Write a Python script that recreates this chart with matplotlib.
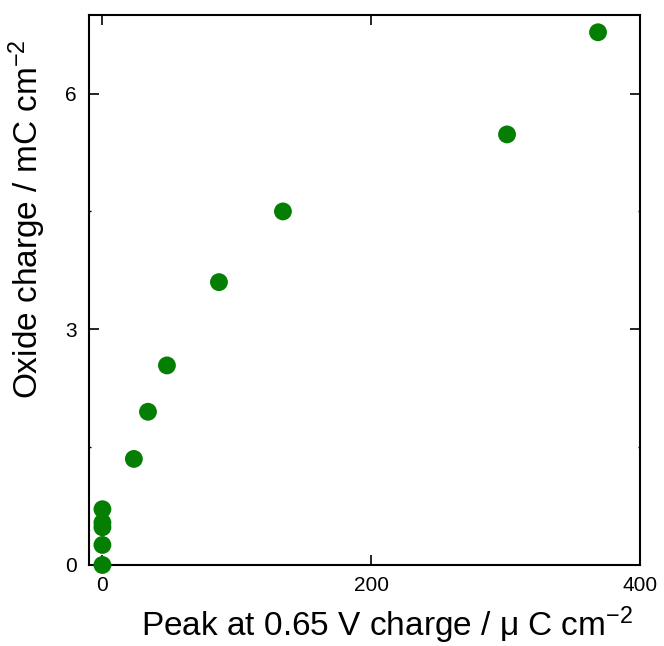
import matplotlib
matplotlib.use("Agg")
import matplotlib.pyplot as plt
from matplotlib.ticker import MultipleLocator

# peak charge at 0.65 V (uC cm-2) vs oxide charge (mC cm-2)
peak_charge = [0, 0, 0, 0, 0, 23.4, 33.9, 48.0, 86.7, 134.3, 301.0, 368.7]
oxide_charge = [0.0, 0.255, 0.48, 0.54, 0.71, 1.35, 1.95, 2.54, 3.60, 4.50, 5.48, 6.78]

x_ticks = [0, 200, 400]
y_ticks = [0, 3, 6]

plt.rcParams["font.family"] = ["Liberation Sans", "DejaVu Sans"]
plt.rcParams["mathtext.fontset"] = "custom"
plt.rcParams["mathtext.rm"] = "Liberation Sans"
plt.rcParams["mathtext.it"] = "Liberation Sans:italic"

fig = plt.figure(figsize=(6.64, 6.46), dpi=100)
ax = fig.add_axes([0.134, 0.1254, 0.830, 0.8514])

ax.scatter(peak_charge, oxide_charge, s=165, color="#047f04", edgecolors="none", zorder=3, clip_on=False)

ax.set_xlim(-10, 400)
ax.set_ylim(0, 7)
ax.set_xticks(x_ticks)
ax.set_yticks(y_ticks)
ax.yaxis.set_minor_locator(MultipleLocator(1.5))

ax.tick_params(which="major", direction="in", length=7, width=1.2, labelsize=15,
               top=True, right=True, pad=8)
ax.tick_params(which="minor", direction="in", length=1.2, width=1.0, right=True, left=True)
ax.tick_params(axis="y", which="major", pad=9)
for sp in ax.spines.values():
    sp.set_linewidth(1.5)

# labels sit off-centre in the original
ax.set_xlabel("Peak at 0.65 V charge / \u03bc C cm$^{-2}$", fontsize=24, labelpad=7, x=0.541)
ax.set_ylabel("Oxide charge / mC cm$^{-2}$", fontsize=24, labelpad=12, y=0.629)

fig.savefig("out.png", dpi=100)
